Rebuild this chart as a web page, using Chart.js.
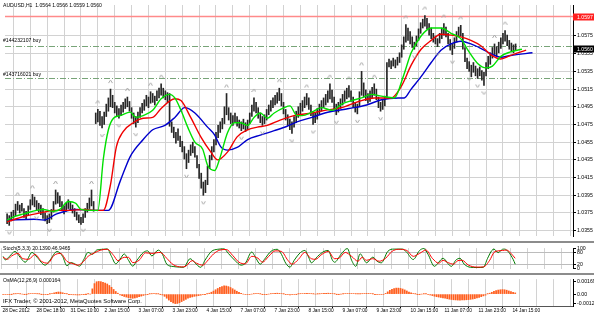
<!DOCTYPE html>
<html>
<head>
<meta charset="utf-8">
<script src="https://cdn.jsdelivr.net/npm/chart.js@4.4.1/dist/chart.umd.min.js"></script>
<style>
  html, body { margin: 0; padding: 0; background: #fff; }
  #wrap { position: relative; width: 594px; height: 316px; overflow: hidden; background: #fff;
          font-family: 'Liberation Sans', Arial, sans-serif; }
  canvas { position: absolute; left: 0; }
  .lbl { position: absolute; left: 3px; font-size: 5.1px; line-height: 1; color: #000; white-space: nowrap; }
  .sep { position: absolute; left: 0; width: 594px; height: 2px; background: #8c8c8c; }
</style>
</head>
<body>
<div id="wrap">
  <canvas id="main" width="594" height="241" style="top:0"></canvas>
  <canvas id="stoch" width="594" height="29" style="top:244px"></canvas>
  <canvas id="osma" width="594" height="41" style="top:275px"></canvas>
  <div class="sep" style="top:241px"></div>
  <div class="sep" style="top:273px"></div>
  <div class="lbl" style="top:3px">AUDUSD,H1&nbsp; 1.0564 1.0566 1.0559 1.0560</div>
  <div class="lbl" style="top:38px">#144232107 buy</div>
  <div class="lbl" style="top:72px">#143716021 buy</div>
  <div class="lbl" style="top:246px">Stoch(5,3,3) 20.1390 46.9465</div>
  <div class="lbl" style="top:278px">OsMA(12,26,9) 0.000164</div>
  <div class="lbl" style="top:299px; font-size:5.8px">IFX Trader, © 2001-2012, MetaQuotes Software Corp.</div>
</div>
<script>
// H1 bars, index 0 = first bar on screen
const highs = [
  1.0374,1.0372,1.0376,1.0378,1.0385,1.0388,1.0384,1.0386,1.0380,1.0377,
  1.0383,1.0390,1.0396,1.0393,1.0389,1.0386,1.0384,1.0380,1.0375,1.0372,
  1.0374,1.0379,1.0388,1.0401,1.0398,1.0394,1.0388,1.0383,1.0386,1.0390,
  1.0387,1.0384,1.0380,1.0376,1.0373,1.0370,1.0374,1.0380,1.0386,1.0392,
  1.0401,1.0388,1.0488,1.0492,1.0490,1.0484,1.0489,1.0498,1.0505,1.0515,
  1.0508,1.0500,1.0496,1.0493,1.0497,1.0500,1.0504,1.0506,1.0501,1.0494,
  1.0488,1.0484,1.0489,1.0494,1.0499,1.0503,1.0508,1.0506,1.0512,1.0510,
  1.0507,1.0513,1.0516,1.0521,1.0516,1.0513,1.0511,1.0510,1.0478,1.0472,
  1.0466,1.0470,1.0462,1.0456,1.0450,1.0442,1.0446,1.0452,1.0455,1.0450,
  1.0440,1.0430,1.0420,1.0410,1.0412,1.0428,1.0440,1.0450,1.0458,1.0466,
  1.0474,1.0478,1.0482,1.0495,1.0510,1.0494,1.0488,1.0485,1.0488,1.0484,
  1.0480,1.0478,1.0481,1.0477,1.0480,1.0488,1.0497,1.0505,1.0500,1.0494,
  1.0488,1.0484,1.0486,1.0492,1.0497,1.0502,1.0505,1.0508,1.0511,1.0516,
  1.0510,1.0500,1.0492,1.0486,1.0481,1.0478,1.0484,1.0490,1.0495,1.0499,
  1.0502,1.0506,1.0510,1.0505,1.0497,1.0490,1.0488,1.0493,1.0498,1.0502,
  1.0505,1.0509,1.0513,1.0521,1.0514,1.0506,1.0498,1.0500,1.0504,1.0509,
  1.0513,1.0516,1.0519,1.0513,1.0506,1.0500,1.0498,1.0512,1.0535,1.0522,
  1.0514,1.0510,1.0513,1.0517,1.0521,1.0515,1.0506,1.0500,1.0503,1.0507,
  1.0545,1.0549,1.0547,1.0550,1.0548,1.0551,1.0556,1.0565,1.0574,1.0588,
  1.0584,1.0580,1.0574,1.0568,1.0575,1.0583,1.0590,1.0594,1.0598,1.0595,
  1.0589,1.0584,1.0578,1.0575,1.0572,1.0578,1.0584,1.0589,1.0585,1.0578,
  1.0571,1.0566,1.0573,1.0580,1.0585,1.0587,1.0578,1.0562,1.0550,1.0546,
  1.0542,1.0545,1.0541,1.0538,1.0540,1.0536,1.0534,1.0545,1.0552,1.0556,
  1.0562,1.0566,1.0563,1.0568,1.0573,1.0578,1.0581,1.0576,1.0570,1.0567,
  1.0565,1.0566
];
const lows = [
  1.0363,1.0361,1.0366,1.0369,1.0372,1.0378,1.0375,1.0377,1.0370,1.0368,
  1.0372,1.0379,1.0384,1.0382,1.0378,1.0376,1.0373,1.0369,1.0366,1.0363,
  1.0364,1.0368,1.0376,1.0385,1.0386,1.0382,1.0378,1.0374,1.0377,1.0380,
  1.0378,1.0375,1.0371,1.0367,1.0364,1.0362,1.0364,1.0370,1.0376,1.0380,
  1.0383,1.0377,1.0476,1.0478,1.0474,1.0471,1.0475,1.0484,1.0490,1.0495,
  1.0494,1.0488,1.0485,1.0482,1.0485,1.0489,1.0493,1.0495,1.0490,1.0482,
  1.0476,1.0472,1.0477,1.0483,1.0488,1.0491,1.0496,1.0494,1.0499,1.0500,
  1.0497,1.0502,1.0505,1.0508,1.0505,1.0503,1.0500,1.0473,1.0466,1.0460,
  1.0454,1.0457,1.0450,1.0444,1.0436,1.0425,1.0432,1.0440,1.0443,1.0438,
  1.0426,1.0414,1.0403,1.0395,1.0398,1.0407,1.0425,1.0435,1.0444,1.0452,
  1.0460,1.0466,1.0470,1.0476,1.0486,1.0480,1.0476,1.0474,1.0477,1.0473,
  1.0471,1.0468,1.0470,1.0467,1.0469,1.0476,1.0484,1.0490,1.0488,1.0482,
  1.0477,1.0474,1.0476,1.0480,1.0486,1.0490,1.0494,1.0497,1.0499,1.0502,
  1.0496,1.0487,1.0480,1.0474,1.0469,1.0465,1.0472,1.0477,1.0483,1.0487,
  1.0490,1.0494,1.0497,1.0492,1.0485,1.0475,1.0477,1.0481,1.0486,1.0490,
  1.0494,1.0497,1.0500,1.0504,1.0500,1.0492,1.0486,1.0489,1.0493,1.0497,
  1.0501,1.0504,1.0506,1.0501,1.0494,1.0489,1.0487,1.0495,1.0508,1.0506,
  1.0502,1.0499,1.0501,1.0505,1.0508,1.0503,1.0494,1.0490,1.0492,1.0496,
  1.0505,1.0540,1.0538,1.0541,1.0539,1.0542,1.0545,1.0551,1.0560,1.0568,
  1.0570,1.0566,1.0562,1.0560,1.0564,1.0570,1.0578,1.0584,1.0586,1.0583,
  1.0576,1.0572,1.0568,1.0566,1.0563,1.0567,1.0572,1.0576,1.0574,1.0566,
  1.0559,1.0554,1.0561,1.0568,1.0574,1.0575,1.0560,1.0546,1.0538,1.0535,
  1.0529,1.0534,1.0530,1.0527,1.0530,1.0525,1.0519,1.0530,1.0538,1.0543,
  1.0550,1.0554,1.0552,1.0556,1.0561,1.0566,1.0569,1.0564,1.0560,1.0557,
  1.0556,1.0559
];

// fractal bars
const upFractals = [5,12,23,40,43,49,57,68,73,104,117,129,142,153,162,168,174,189,198,207,215,231,236];
const downFractals = [1,14,20,36,45,53,61,85,93,111,121,135,145,156,166,177,193,204,211,219,223,226];

// alligator lines: [bar, price]
const lipsPts = [[0,1.0367],[3.3,1.0371],[8,1.0374],[14,1.0378],[17,1.0379],[22,1.0377],[25,1.0379],[29,1.0388],
  [32.5,1.0386],[35,1.0379],[39.5,1.0378],[43,1.0378],[45.6,1.0436],[48,1.0469],[50.4,1.0482],[53.6,1.0485],
  [58.4,1.0489],[61,1.0483],[64.5,1.0485],[69,1.0491],[73,1.0504],[77,1.0509],[79.5,1.0505],[82.4,1.0491],
  [85.6,1.0472],[89,1.0455],[92.7,1.0447],[95,1.0429],[98.4,1.0423],[100.7,1.0436],[104.5,1.0466],[107.8,1.0477],
  [110.6,1.0477],[114,1.0474],[117,1.0483],[120,1.0488],[123.3,1.0482],[126.6,1.0488],[131.3,1.0494],[134,1.0496],
  [137.4,1.0485],[139.8,1.0485],[144.5,1.0489],[149,1.0494],[154,1.0491],[158.6,1.0498],[163.3,1.0502],[168,1.0505],
  [172.7,1.0509],[177.4,1.0507],[183.5,1.0505],[188,1.0531],[191.5,1.0556],[196.2,1.0575],[201,1.0584],[205.6,1.0584],
  [210.4,1.0578],[215,1.0572],[218.4,1.0559],[223,1.0544],[227,1.0539],[230,1.0541],[234,1.0552],[238.6,1.0557],[244,1.0560]];
const teethPts = [[0,1.0365],[8,1.0371],[17.4,1.0376],[22,1.0378],[30,1.0378],[36.2,1.0379],[41,1.0378],[45.6,1.0378],
  [49,1.0407],[51.8,1.0450],[55,1.0467],[59.8,1.0477],[64.5,1.0482],[69,1.0483],[73,1.0493],[79.5,1.0504],[82.4,1.0502],
  [87,1.0483],[91.8,1.0461],[96.5,1.0444],[99.8,1.0435],[104.5,1.0444],[109,1.0461],[114,1.0469],[118.6,1.0472],
  [123.3,1.0474],[129.4,1.0480],[136,1.0485],[144.5,1.0488],[150.6,1.0491],[158.6,1.0494],[166.6,1.0501],[174,1.0505],
  [182,1.0505],[186.8,1.0518],[191.5,1.0542],[196.2,1.0560],[201,1.0570],[205.6,1.0577],[210.4,1.0576],[215,1.0574],
  [219.8,1.0570],[224.5,1.0564],[229.2,1.0554],[234,1.0549],[238.6,1.0553],[246,1.0559]];
const jawPts = [[0,1.0367],[12.7,1.0368],[17.4,1.0367],[23.5,1.0374],[33,1.0379],[41,1.0378],[48,1.0378],[53.6,1.0411],
  [58.4,1.0439],[64.5,1.0458],[69,1.0469],[74.8,1.0474],[79.5,1.0483],[84.2,1.0494],[89,1.0488],[95,1.0472],[98.4,1.0463],
  [101.2,1.0450],[104.5,1.0446],[109,1.0449],[114,1.0458],[120,1.0463],[126.6,1.0468],[132.7,1.0473],[137.4,1.0478],
  [144.5,1.0483],[150.6,1.0488],[162,1.0493],[170.4,1.0497],[177.4,1.0503],[185.4,1.0505],[188.2,1.0505],[191.5,1.0515],
  [196.2,1.0529],[201,1.0545],[205.6,1.0559],[210.4,1.0566],[215,1.0569],[219.8,1.0566],[224.5,1.0561],[229.2,1.0555],
  [234,1.0551],[238.6,1.0553],[249,1.0556]];

// stochastic (5,3,3): [bar, value]
const stochMainPts = [[0,60],[1,42],[3,60],[5.6,85],[8,55],[10.4,30],[13.6,80],[16,55],[19.8,15],[22,40],[25.4,85],
  [28,60],[30,12],[32,28],[34,20],[36,10],[38,45],[40,80],[42,70],[44,92],[47,96],[49,98],[51,60],[53,22],[55,45],
  [57,72],[59,40],[61,10],[63,40],[66,80],[68,88],[70,62],[73,92],[75,70],[77,20],[80,8],[83,5],[85,4],[88,48],
  [90,30],[93,4],[95,40],[98,85],[101,96],[104,98],[106,75],[109,40],[112,15],[114,25],[117,82],[119,50],[121,20],
  [123,45],[126,85],[129,96],[131,70],[133,25],[135,5],[137,40],[140,80],[142,90],[144,50],[145,27],[148,60],
  [151,85],[153,90],[155,40],[156,30],[159,70],[162,100],[164,40],[166,9],[168,73],[170,40],[171,27],[174,56],
  [176,35],[178,27],[181,85],[184,97],[188,97],[190,80],[193,44],[196,90],[198,100],[200,70],[203,9],[205,30],
  [207,50],[210,15],[211,9],[213,40],[215,50],[217,20],[220,4],[223,3],[226,4],[228,50],[230,90],[231,97],
  [233,79],[235,96],[236,97],[238,80],[240,45],[241,20]];
const stochSignalPts = [[0,55],[2,45],[4,62],[7,75],[9,50],[12,45],[15,70],[18,35],[21,25],[24,65],[27,75],[30,35],
  [33,22],[35,15],[37,25],[40,60],[43,78],[46,92],[49,96],[52,65],[54,38],[57,55],[59,55],[61,28],[64,40],[67,78],
  [70,75],[72,78],[74,80],[77,50],[80,18],[84,6],[86,10],[89,38],[91,25],[94,15],[96,35],[99,72],[102,92],[105,95],
  [108,65],[111,30],[114,22],[117,60],[120,50],[122,30],[125,60],[128,88],[131,85],[134,40],[136,20],[139,45],
  [142,80],[145,48],[147,45],[150,70],[153,85],[156,48],[158,50],[161,80],[164,60],[167,35],[169,55],[171,40],
  [174,48],[177,35],[180,50],[183,85],[186,96],[190,90],[193,60],[196,75],[199,92],[202,50],[205,25],[207,40],
  [209,30],[212,20],[214,38],[216,40],[219,15],[223,5],[226,6],[229,40],[231,80],[233,88],[235,90],[237,92],
  [239,75],[241,50]];
const stochTicks = [0, 20, 80, 100];
const stochLevels = [20, 80];

// OsMA(12,26,9) per bar, in units of 0.00001
const osmaPts = [
  -6,-7,-6,-4,-1,2,4,5,3,0,-2,-1,3,6,
  7,6,4,2,-1,-4,-5,-3,1,
  8,16,24,28,26,18,10,3,
  -3,-7,-9,-10,-12,-11,-8,-4,-1,1,0,
  70,140,165,169,166,158,148,135,115,90,62,35,12,
  -10,-22,-32,-40,-48,-54,-56,-52,-45,-36,
  -27,-18,-10,-3,2,4,5,4,2,-2,
  -12,-30,-55,-80,-102,-118,-127,-125,-115,-100,-85,-70,
  -56,-45,-38,-30,-25,-20,-14,-8,-2,4,
  12,25,40,58,75,90,102,110,108,100,88,72,55,38,
  22,10,0,-6,-8,-5,0,4,6,5,2,-2,-4,-3,0,4,8,11,12,10,6,1,-4,-8,-10,-9,-6,-2,2,5,
  7,9,10,8,5,2,0,1,3,6,9,11,12,10,6,2,-1,-2,0,3,6,8,9,8,6,3,1,2,5,8,10,9,6,2,-2,-5,-7,-8,-6,
  10,30,50,65,75,80,80,76,68,56,42,28,
  16,8,2,-2,-2,0,2,2,
  -5,-12,-20,-28,-35,-40,-45,-50,-56,-62,-68,-72,-76,-78,-80,-80,-79,-78,-76,-74,-70,-66,-60,-52,-44,-34,-24,-14,
  2,12,24,36,46,54,58,60,58,52,42,32,24,16
];
const osmaTicks = [-0.00127, 0, 0.00169];

const priceTicks = [1.0355,1.0375,1.0395,1.0415,1.0435,1.0455,1.0475,1.0495,1.0515,1.0535,1.0555,1.0575];
const alertPrice = 1.0597;
const bidPrice = 1.0560;
const orderPrices = [1.0564, 1.0527];

const timeLabels = ['28 Dec 2012','28 Dec 18:00','31 Dec 10:00','2 Jan 15:00','3 Jan 07:00','3 Jan 23:00',
  '4 Jan 15:00','7 Jan 07:00','7 Jan 23:00','8 Jan 15:00','9 Jan 07:00','9 Jan 23:00','10 Jan 15:00',
  '11 Jan 07:00','11 Jan 23:00','14 Jan 15:00'];
const timeLabelBars = [-1,15,31,47,63,79,95,111,127,143,159,175,191,207,223,239];

const X_MIN = -1, X_MAX = 268.2;
const gridColor = '#d2d2d2';
const fontFamily = "'Liberation Sans', Arial, sans-serif";
const gridBars = [];
for (let b = -1; b <= X_MAX; b += 8) gridBars.push(b);

const toXY = pts => pts.map(p => ({ x: p[0], y: p[1] }));

function fractalMark(up) {
  const c = document.createElement('canvas');
  c.width = 5; c.height = 22;
  const g = c.getContext('2d');
  g.strokeStyle = '#a8a8a8';
  g.lineWidth = 1;
  g.beginPath();
  if (up) { g.moveTo(0.5, 5); g.lineTo(2.5, 2); g.lineTo(4.5, 5); }
  else { g.moveTo(0.5, 17); g.lineTo(2.5, 20); g.lineTo(4.5, 17); }
  g.stroke();
  return c;
}

function xAxis(withLabels) {
  return {
    type: 'linear', min: X_MIN, max: X_MAX, offset: false,
    afterBuildTicks: s => { s.ticks = gridBars.map(v => ({ value: v })); },
    afterFit: s => { s.height = withLabels ? 10 : 0; },
    grid: {
      color: gridColor, borderDash: [1, 2], drawTicks: withLabels, tickLength: 2, tickBorderDash: [],
      tickColor: c => (c.tick && timeLabelBars.includes(c.tick.value)) ? '#000' : 'rgba(0,0,0,0)'
    },
    border: { display: withLabels, color: '#555' },
    ticks: {
      display: withLabels, autoSkip: false, maxRotation: 0, align: 'start', labelOffset: 1.5, padding: 0,
      color: '#000', font: { size: 4.8, family: fontFamily },
      callback: v => { const k = timeLabelBars.indexOf(v); return k < 0 ? '' : timeLabels[k]; }
    }
  };
}

function yAxis(extra) {
  return Object.assign({
    position: 'right',
    afterFit: s => { s.width = 21; },
    border: { color: '#000' },
    grid: { color: gridColor, borderDash: [1, 2], tickLength: 3, tickColor: '#000', tickBorderDash: [] },
    ticks: { padding: 1, autoSkip: false, color: '#000', font: { size: 5.2, family: fontFamily } }
  }, extra);
}

const baseOptions = {
  responsive: false, animation: false, events: [], devicePixelRatio: 1,
  plugins: { legend: { display: false }, tooltip: { enabled: false } }
};

const priceLevels = {
  id: 'priceLevels',
  beforeDatasetsDraw(chart) {
    const { ctx, chartArea: a, scales: { y } } = chart;
    ctx.save();
    ctx.strokeStyle = '#ff8a8a';
    ctx.lineWidth = 1.5;
    let py = y.getPixelForValue(alertPrice);
    ctx.beginPath(); ctx.moveTo(a.left, py); ctx.lineTo(a.right, py); ctx.stroke();
    ctx.strokeStyle = '#78a478';
    ctx.lineWidth = 1;
    ctx.setLineDash([6, 2, 1, 2]);
    orderPrices.forEach(p => {
      py = Math.round(y.getPixelForValue(p)) + 0.5;
      ctx.beginPath(); ctx.moveTo(a.left, py); ctx.lineTo(a.right, py); ctx.stroke();
    });
    ctx.restore();
  },
  afterDraw(chart) {
    const { ctx, chartArea: a, scales: { y } } = chart;
    ctx.save();
    ctx.font = '5.2px ' + fontFamily;
    ctx.textBaseline = 'middle';
    [[alertPrice, '#ff2020'], [bidPrice, '#000']].forEach(([p, col]) => {
      const py = Math.round(y.getPixelForValue(p));
      ctx.fillStyle = col;
      ctx.fillRect(a.right, py - 3.5, chart.width - a.right, 7);
      ctx.fillStyle = '#fff';
      ctx.fillText(p.toFixed(4), a.right + 4, py + 0.5);
    });
    ctx.restore();
  }
};

const lineStyle = (color, width) => ({
  type: 'line', borderColor: color, borderWidth: width, pointRadius: 0,
  cubicInterpolationMode: 'monotone', fill: false
});

new Chart(document.getElementById('main'), {
  type: 'bar',
  data: {
    datasets: [
      { type: 'line', data: upFractals.map(i => ({ x: i, y: highs[i] })), showLine: false,
        pointStyle: fractalMark(true), pointRadius: 2, order: 0 },
      { type: 'line', data: downFractals.map(i => ({ x: i, y: lows[i] })), showLine: false,
        pointStyle: fractalMark(false), pointRadius: 2, order: 0 },
      Object.assign(lineStyle('#00e000', 1.4), { data: toXY(lipsPts), order: 1 }),
      Object.assign(lineStyle('#f00000', 1.4), { data: toXY(teethPts), order: 2 }),
      Object.assign(lineStyle('#0000cc', 1.4), { data: toXY(jawPts), order: 3 }),
      { type: 'bar', data: highs.map((h, i) => ({ x: i, y: [lows[i], h] })),
        backgroundColor: '#262626', barThickness: 1, order: 5 }
    ]
  },
  options: Object.assign({}, baseOptions, {
    layout: { padding: { left: 1, top: 1, right: 0, bottom: 1 } },
    scales: {
      x: xAxis(false),
      y: yAxis({
        min: 1.0349, max: 1.0610,
        afterBuildTicks: s => { s.ticks = priceTicks.map(v => ({ value: v })); },
        ticks: { padding: 1, autoSkip: false, color: '#000', font: { size: 5.2, family: fontFamily },
                 callback: v => v.toFixed(4) }
      })
    }
  }),
  plugins: [priceLevels]
});

new Chart(document.getElementById('stoch'), {
  type: 'line',
  data: {
    datasets: [
      Object.assign(lineStyle('#007a00', 1), { data: toXY(stochMainPts), order: 2 }),
      Object.assign(lineStyle('#ff0000', 1), { data: toXY(stochSignalPts), order: 1 })
    ]
  },
  options: Object.assign({}, baseOptions, {
    layout: { padding: { left: 1, top: 0, right: 0, bottom: 0 } },
    scales: {
      x: xAxis(false),
      y: yAxis({
        min: -4, max: 102,
        afterBuildTicks: s => { s.ticks = stochTicks.map(v => ({ value: v })); },
        grid: { borderDash: [1, 2], tickLength: 3, tickColor: '#000', tickBorderDash: [],
                color: c => (c.tick && stochLevels.includes(c.tick.value)) ? '#bcbcbc' : 'rgba(0,0,0,0)' }
      })
    }
  })
});

new Chart(document.getElementById('osma'), {
  type: 'bar',
  data: {
    datasets: [{
      data: osmaPts.map((v, i) => ({ x: i, y: v / 100000 })),
      backgroundColor: '#ff5f1f', barThickness: 1.1
    }]
  },
  options: Object.assign({}, baseOptions, {
    layout: { padding: { left: 1, top: 0, right: 0, bottom: 0 } },
    scales: {
      x: xAxis(true),
      y: yAxis({
        min: -0.00159, max: 0.0020,
        afterBuildTicks: s => { s.ticks = osmaTicks.map(v => ({ value: v })); },
        grid: { drawOnChartArea: false, tickLength: 3, tickColor: '#000', tickBorderDash: [] },
        ticks: { padding: 1, autoSkip: false, color: '#000', font: { size: 5.2, family: fontFamily },
                 callback: v => v === 0 ? '0.00' : v.toFixed(5) }
      })
    }
  })
});
</script>
</body>
</html>
